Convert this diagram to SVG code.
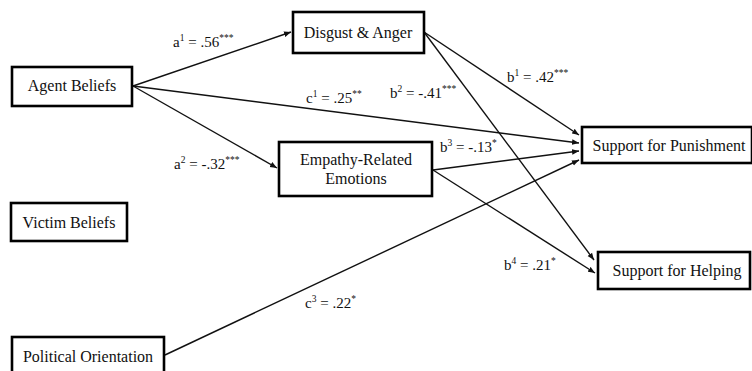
<svg xmlns="http://www.w3.org/2000/svg" width="752" height="371" viewBox="0 0 752 371">
<defs>
<style>
.box{fill:#fff;stroke:#000;stroke-width:2.6}
.t{font-family:"Liberation Serif","Times New Roman",serif;font-size:16px;fill:#111;text-anchor:middle}
.l{font-family:"Liberation Serif","Times New Roman",serif;font-size:15px;fill:#111}
.s{font-size:9.5px}
.c{stroke:#111;stroke-width:1.4;fill:none;marker-end:url(#ah)}
</style>
<marker id="ah" viewBox="0 0 10 10" refX="10" refY="5" markerWidth="5" markerHeight="5" orient="auto" markerUnits="strokeWidth">
<path d="M0,1 L10,5 L0,9 z" fill="#111"/>
</marker>
</defs>
<rect width="752" height="371" fill="#fff"/>
<g id="connectors">
<line class="c" x1="133" y1="86" x2="291" y2="32"/>
<line class="c" x1="133" y1="86" x2="579" y2="143"/>
<line class="c" x1="133" y1="86" x2="277" y2="168"/>
<line class="c" x1="424" y1="32" x2="579" y2="135"/>
<line class="c" x1="424" y1="32" x2="594" y2="260"/>
<line class="c" x1="433" y1="170" x2="579" y2="151"/>
<line class="c" x1="433" y1="170" x2="595" y2="273"/>
<line class="c" x1="165" y1="355" x2="579" y2="160"/>
</g>
<g id="labels">
<text class="l" x="173" y="47">a<tspan class="s" dy="-6">1</tspan><tspan dy="6"> = .56</tspan><tspan class="s" dy="-6">***</tspan></text>
<text class="l" x="306" y="103">c<tspan class="s" dy="-6">1</tspan><tspan dy="6"> = .25</tspan><tspan class="s" dy="-6">**</tspan></text>
<text class="l" x="390" y="98">b<tspan class="s" dy="-6">2</tspan><tspan dy="6"> = -.41</tspan><tspan class="s" dy="-6">***</tspan></text>
<text class="l" x="507" y="82">b<tspan class="s" dy="-6">1</tspan><tspan dy="6"> = .42</tspan><tspan class="s" dy="-6">***</tspan></text>
<text class="l" x="174" y="169">a<tspan class="s" dy="-6">2</tspan><tspan dy="6"> = -.32</tspan><tspan class="s" dy="-6">***</tspan></text>
<text class="l" x="440" y="152">b<tspan class="s" dy="-6">3</tspan><tspan dy="6"> = -.13</tspan><tspan class="s" dy="-6">*</tspan></text>
<text class="l" x="504" y="270">b<tspan class="s" dy="-6">4</tspan><tspan dy="6"> = .21</tspan><tspan class="s" dy="-6">*</tspan></text>
<text class="l" x="305" y="308">c<tspan class="s" dy="-6">3</tspan><tspan dy="6"> = .22</tspan><tspan class="s" dy="-6">*</tspan></text>
</g>
<g id="agent-beliefs">
<rect class="box" x="12" y="67" width="120" height="39"/>
<text class="t" x="72" y="91">Agent Beliefs</text>
</g>
<g id="disgust-anger">
<rect class="box" x="293" y="12" width="131" height="41"/>
<text class="t" x="358" y="38">Disgust &amp; Anger</text>
</g>
<g id="empathy">
<rect class="box" x="279" y="142" width="153" height="54"/>
<text class="t" x="356" y="165">Empathy-Related</text>
<text class="t" x="356" y="184">Emotions</text>
</g>
<g id="victim-beliefs">
<rect class="box" x="11" y="203" width="116" height="38"/>
<text class="t" x="69" y="228">Victim Beliefs</text>
</g>
<g id="political-orientation">
<rect class="box" x="12" y="337" width="152" height="42"/>
<text class="t" x="88" y="362">Political Orientation</text>
</g>
<g id="support-punishment">
<rect class="box" x="582" y="127" width="170" height="36"/>
<text class="t" x="669" y="151">Support for Punishment</text>
</g>
<g id="support-helping">
<rect class="box" x="598" y="252" width="152" height="37"/>
<text class="t" x="677" y="276">Support for Helping</text>
</g>
</svg>
